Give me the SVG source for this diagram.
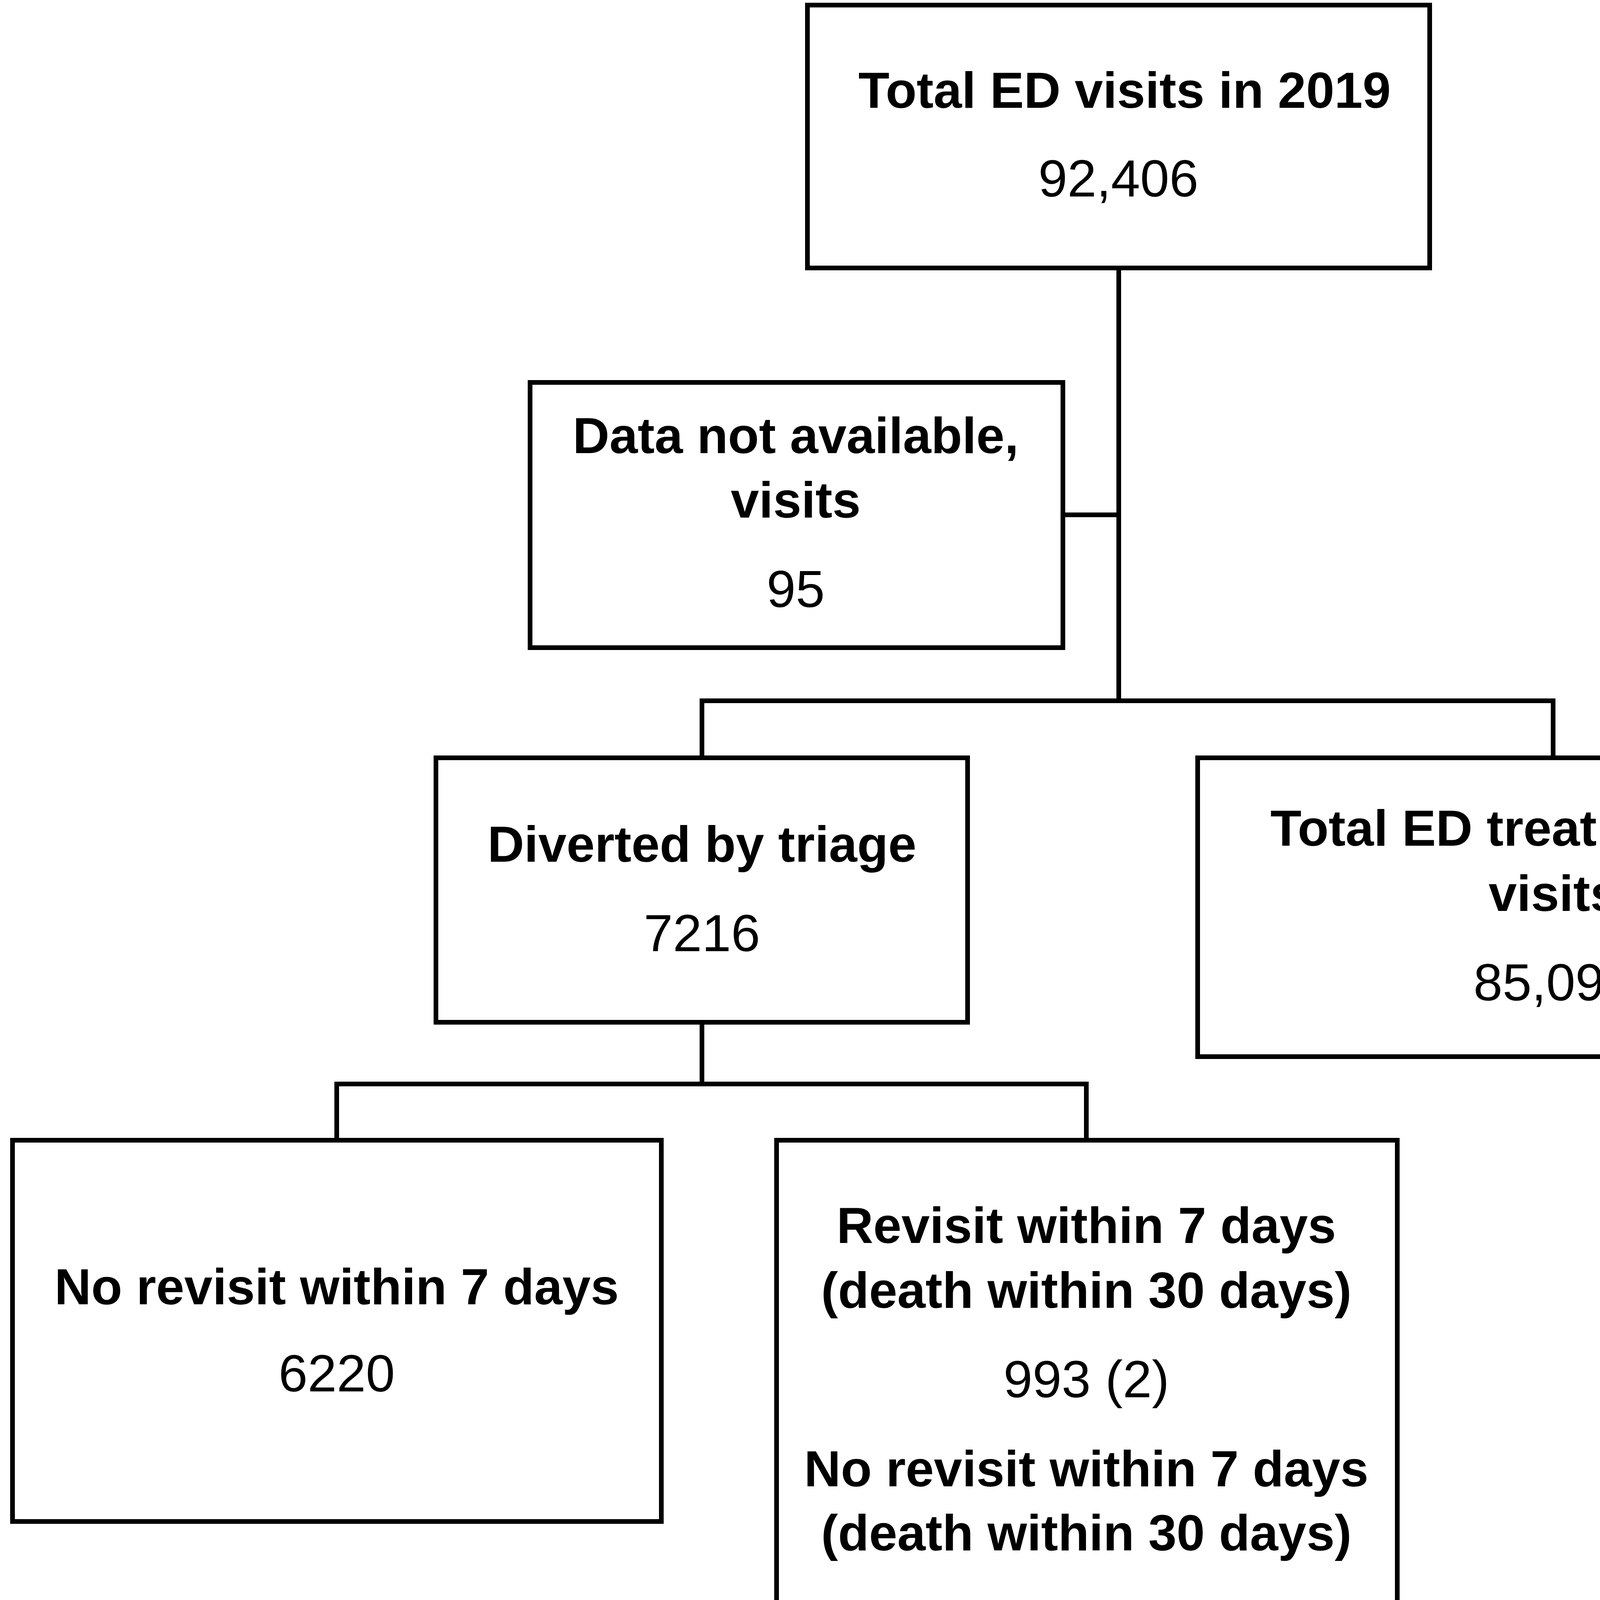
<svg xmlns="http://www.w3.org/2000/svg" width="4899" height="6642" viewBox="0 0 4899 6642">
<style>
.box{fill:#fff;stroke:#000;stroke-width:12}
.con{fill:none;stroke:#000;stroke-width:12;stroke-linecap:square;stroke-linejoin:miter}
text{font-family:"Liberation Sans",Arial,sans-serif;fill:#000;text-anchor:middle}
.b{font-weight:bold;font-size:130px}
.r{font-size:134px}
</style>
<rect width="4899" height="6642" fill="#fff"/>
<g id="connectors">
<polyline class="con" points="2864,686 2864,1794"/>
<polyline class="con" points="2721,1318 2864,1318"/>
<polyline class="con" points="1797,1940 1797,1794 3976,1794 3976,1940"/>
<polyline class="con" points="1797,2617 1797,2775"/>
<polyline class="con" points="862,2919 862,2775 2781,2775 2781,2919"/>
<polyline class="con" points="2143,4370 2143,6148 2419,6148"/>
<polyline class="con" points="2040,5465 2143,5465"/>
</g>
<g id="total-visits">
<rect class="box" x="2067" y="13" width="1593" height="673"/>
<text class="b" x="2879" y="276">Total ED visits in 2019</text>
<text class="r" x="2863" y="503">92,406</text>
</g>
<g id="data-not-available">
<rect class="box" x="1357" y="979" width="1364" height="679"/>
<text class="b" x="2037" y="1160">Data not available,</text>
<text class="b" x="2037" y="1325">visits</text>
<text class="r" x="2037" y="1554">95</text>
</g>
<g id="diverted">
<rect class="box" x="1116" y="1940" width="1361" height="677"/>
<text class="b" x="1797" y="2206">Diverted by triage</text>
<text class="r" x="1797" y="2435">7216</text>
</g>
<g id="treatment-area">
<rect class="box" x="3066" y="1940" width="1820" height="765"/>
<text class="b" x="3977" y="2165">Total ED treatment area</text>
<text class="b" x="3977" y="2332">visits</text>
<text class="r" x="3977" y="2561">85,095</text>
</g>
<g id="no-revisit">
<rect class="box" x="32" y="2919" width="1661" height="976"/>
<text class="b" x="862" y="3339">No revisit within 7 days</text>
<text class="r" x="862" y="3562">6220</text>
</g>
<g id="revisit">
<rect class="box" x="1988" y="2919" width="1589" height="1451"/>
<text class="b" x="2781" y="3182">Revisit within 7 days</text>
<text class="b" x="2781" y="3348">(death within 30 days)</text>
<text class="r" x="2781" y="3577">993 (2)</text>
<text class="b" x="2781" y="3805">No revisit within 7 days</text>
<text class="b" x="2781" y="3969">(death within 30 days)</text>
<text class="r" x="2781" y="4199">0 (3)</text>
</g>
<g id="excluded">
<rect class="box" x="8" y="4550" width="2032" height="1829"/>
<text class="b" x="1024" y="4708">Excluded data</text>
<text class="r" x="1024" y="4936">Paediatric ED 102</text>
<text class="r" x="1024" y="5163">Gynaecology/Obstetric ED 10</text>
<text class="r" x="1024" y="5393">Regional hospital ED 61</text>
<text class="r" x="1024" y="5622">Typing error 17</text>
<text class="r" x="1024" y="5850">Paramedic consultations 34</text>
<text class="r" x="1024" y="6079">Patient phone calls 25</text>
<text class="r" x="1024" y="6308">Data not available 18</text>
</g>
<g id="study-population">
<rect class="box" x="2419" y="5660" width="2110" height="970"/>
<text class="b" x="3476" y="5847">Study population</text>
<text class="r" x="3476" y="6074">Unplanned revisits 603 (2 deaths)</text>
<text class="r" x="3476" y="6302">Planned revisits 123</text>
<text class="r" x="3476" y="6528">Deaths without revisit 3</text>
</g>
</svg>
